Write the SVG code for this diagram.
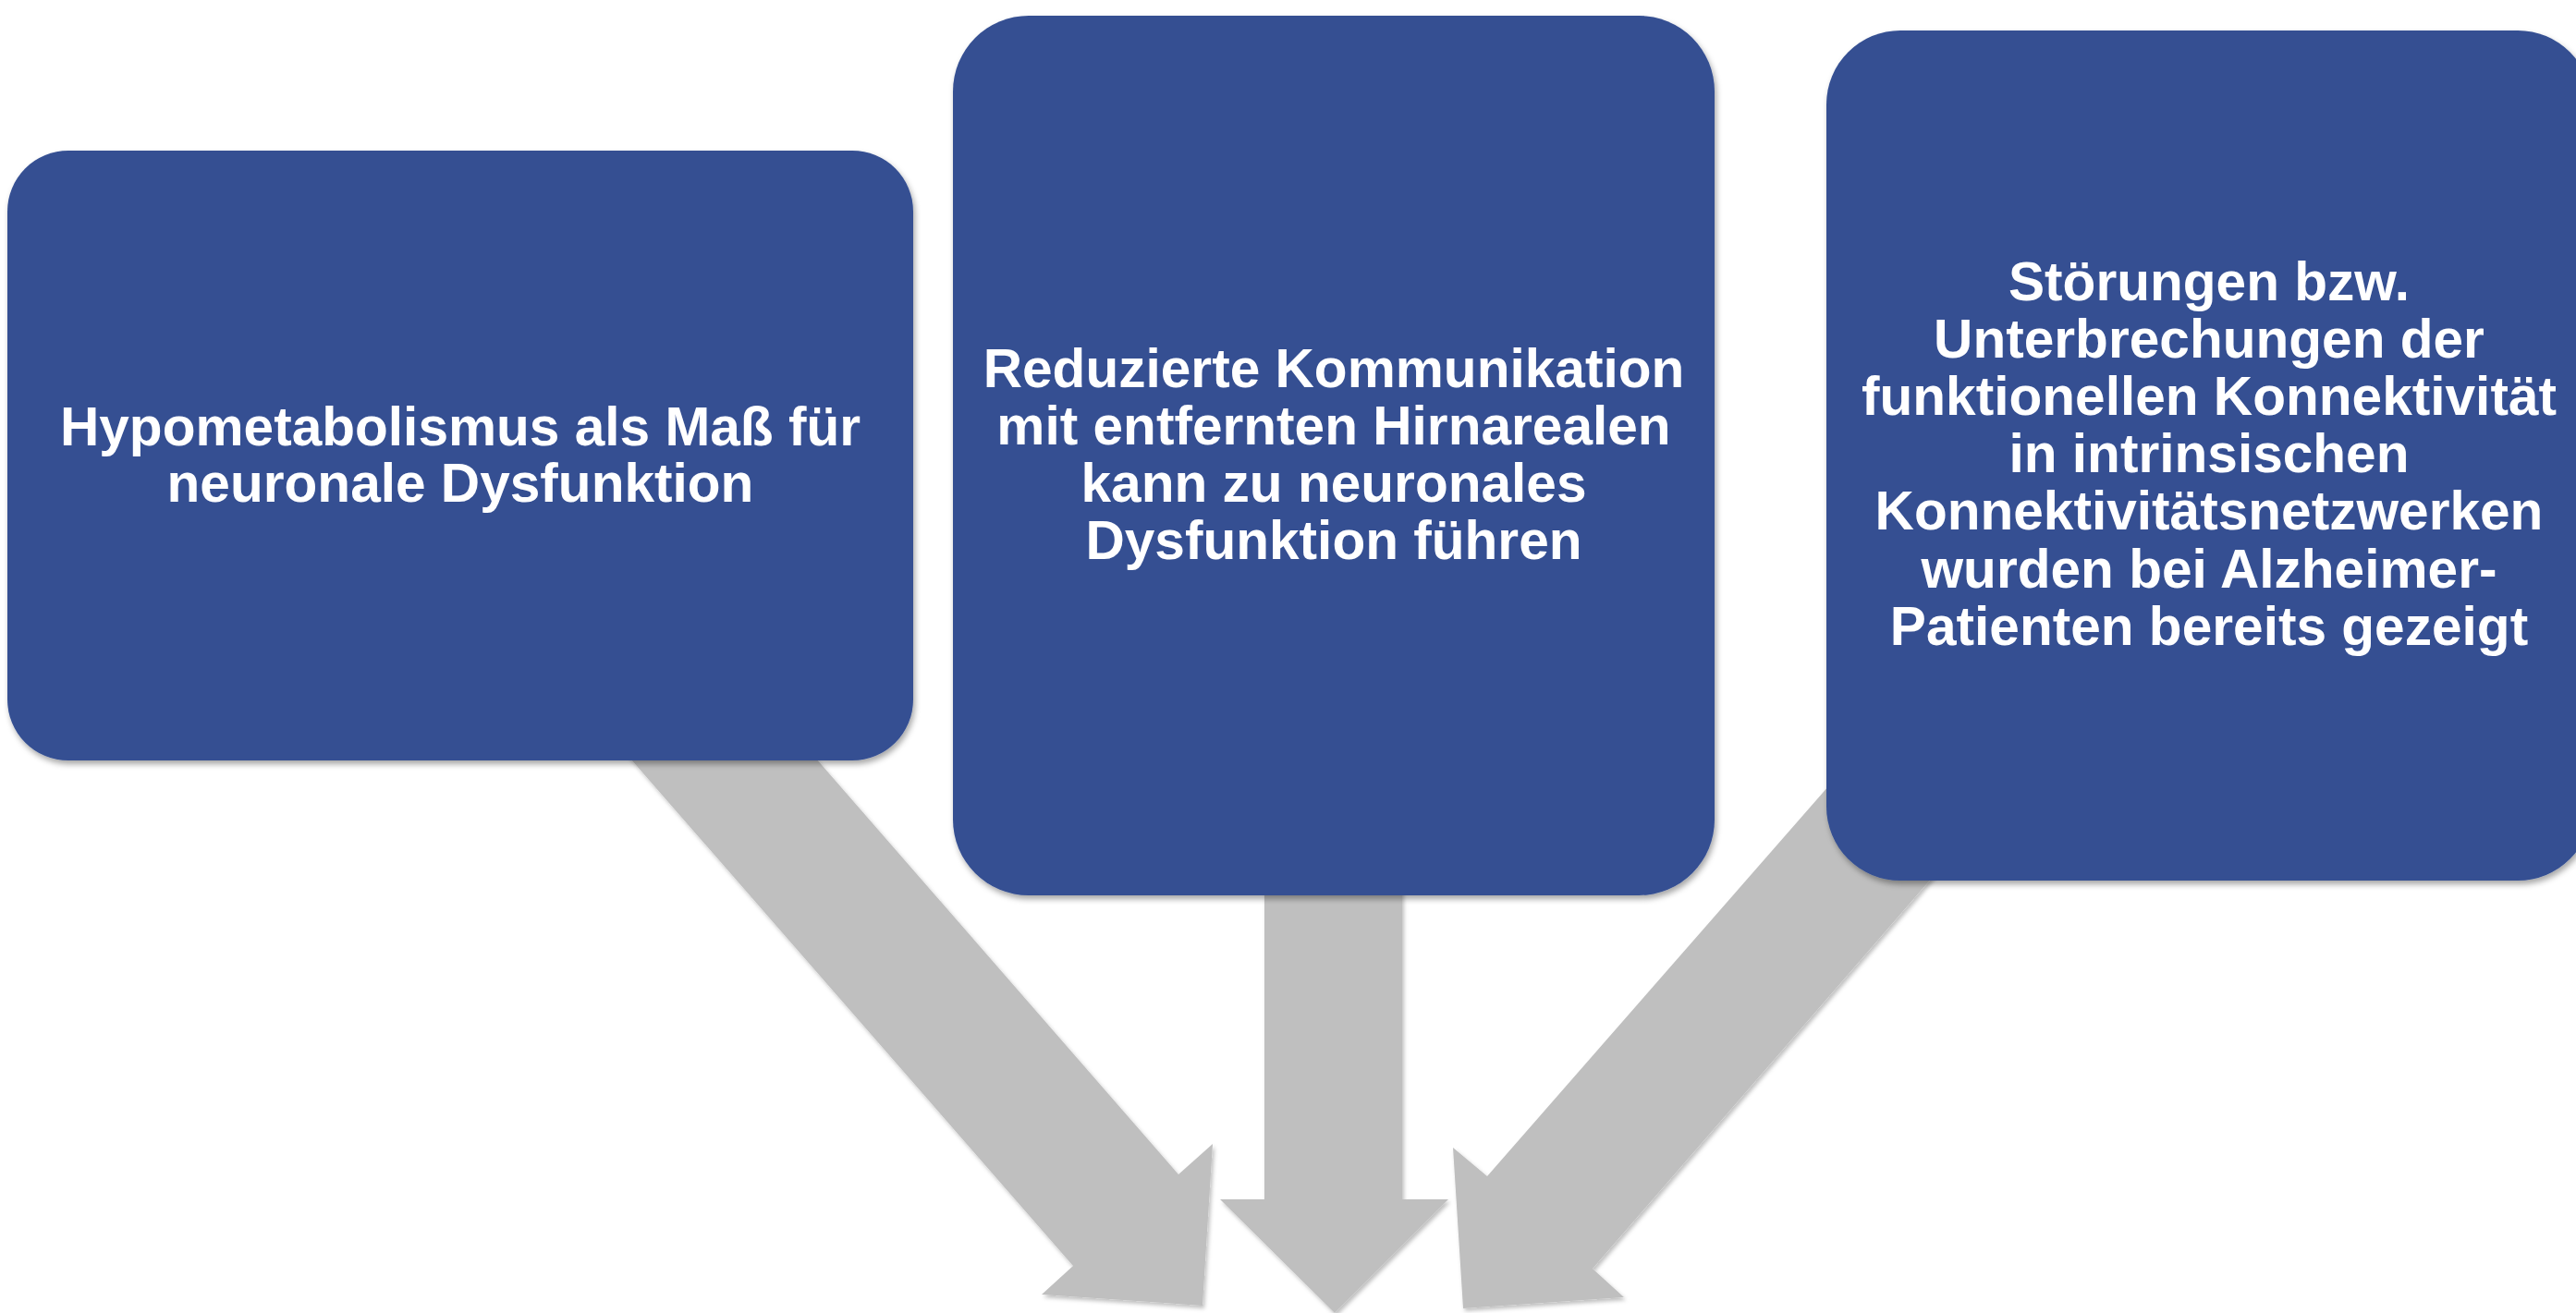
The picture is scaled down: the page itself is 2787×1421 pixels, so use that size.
<svg xmlns="http://www.w3.org/2000/svg" width="2787" height="1421" viewBox="0 0 2787 1421">
<style>
.box{fill:#344F92;filter:url(#sh);}
.arrow{fill:#BFBFBF;filter:url(#sh2);}
.lbl{font-family:"Liberation Sans",Arial,sans-serif;font-weight:bold;font-size:58.6px;fill:#FFFFFF;text-anchor:middle;}
</style>
<defs>
<filter id="sh" x="-10%" y="-10%" width="120%" height="120%">
<feDropShadow dx="2" dy="4" stdDeviation="3" flood-color="#000" flood-opacity="0.35"/>
</filter>
<filter id="sh2" x="-10%" y="-10%" width="120%" height="120%">
<feDropShadow dx="2" dy="3" stdDeviation="2" flood-color="#000" flood-opacity="0.25"/>
</filter>
</defs>
<rect width="2787" height="1421" fill="#FFFFFF"/>
<g id="connectors">
<polygon class="arrow" points="655,790 856,790 1275,1271 1312,1238 1301,1413 1127,1401 1161,1370"/>
<polygon class="arrow" points="1368,900 1517,900 1517,1298 1567,1298 1444,1421 1320,1298 1368,1298"/>
<polygon class="arrow" points="1979,850 2177,850 1723,1373 1757,1404 1583,1416 1572,1242 1609,1273"/>
</g>
<g id="node1">
<rect class="box" x="8" y="163" width="980" height="660" rx="66" ry="66"/>
<text class="lbl" x="498" y="482">Hypometabolismus als Maß für</text>
<text class="lbl" x="498" y="543">neuronale Dysfunktion</text>
</g>
<g id="node2">
<rect class="box" x="1031" y="17" width="824" height="952" rx="82" ry="82"/>
<text class="lbl" x="1443" y="419">Reduzierte Kommunikation</text>
<text class="lbl" x="1443" y="481">mit entfernten Hirnarealen</text>
<text class="lbl" x="1443" y="543">kann zu neuronales</text>
<text class="lbl" x="1443" y="605">Dysfunktion führen</text>
</g>
<g id="node3">
<rect class="box" x="1976" y="33" width="828" height="920" rx="80" ry="80"/>
<text class="lbl" x="2390" y="325">Störungen bzw.</text>
<text class="lbl" x="2390" y="387">Unterbrechungen der</text>
<text class="lbl" x="2390" y="449">funktionellen Konnektivität</text>
<text class="lbl" x="2390" y="511">in intrinsischen</text>
<text class="lbl" x="2390" y="573">Konnektivitätsnetzwerken</text>
<text class="lbl" x="2390" y="636">wurden bei Alzheimer-</text>
<text class="lbl" x="2390" y="698">Patienten bereits gezeigt</text>
</g>
</svg>
